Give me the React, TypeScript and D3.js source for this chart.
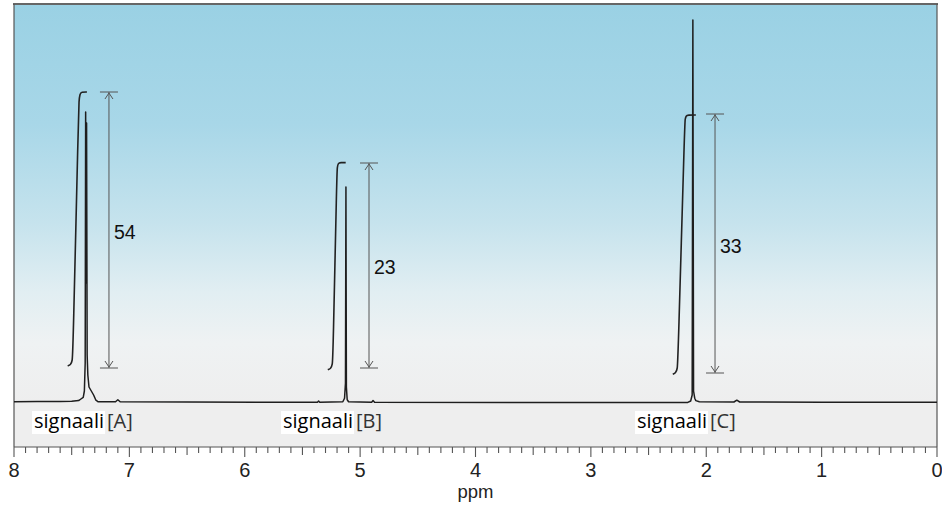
import React, { useEffect, useRef } from "react";
import * as d3 from "d3";

// spectrum trace, [ppm, intensity]
const spectrum: [number, number][] = [
  [8.0, 0.3], [7.8, 0.35], [7.6, 0.4], [7.5, 0.45], [7.44, 0.6], [7.42, 1.0],
  [7.4, 1.4], [7.39, 3], [7.383, 10], [7.379, 72.75], [7.375, 30], [7.371, 70],
  [7.366, 12], [7.36, 7], [7.35, 4], [7.33, 3], [7.31, 2], [7.29, 0.7],
  [7.27, 0.3], [7.12, 0.3], [7.1, 0.8], [7.08, 0.3], [6.5, 0.25], [5.6, 0.2],
  [5.37, 0.2], [5.36, 0.5], [5.35, 0.2], [5.15, 0.3], [5.135, 1.2], [5.127, 5],
  [5.123, 54], [5.119, 4], [5.112, 0.8], [5.1, 0.3], [4.9, 0.2], [4.888, 0.6],
  [4.875, 0.2], [3.5, 0.1], [2.5, 0.1], [2.16, 0.15], [2.135, 0.5], [2.122, 2],
  [2.116, 95.75], [2.11, 3], [2.1, 1.2], [2.09, 0.6], [2.06, 0.3], [1.76, 0.25],
  [1.735, 0.7], [1.71, 0.25], [1.0, 0.2], [0.0, 0.2],
];

// integration traces
const integralA: [number, number][] = [
  [7.535, 9.3], [7.51, 9.5], [7.494, 10.5], [7.489, 13], [7.441, 72],
  [7.437, 75.5], [7.429, 77.3], [7.415, 77.75], [7.368, 77.75],
];
const integralB: [number, number][] = [
  [5.28, 8.3], [5.255, 8.6], [5.24, 9.5], [5.235, 12], [5.202, 57],
  [5.198, 59], [5.19, 60], [5.17, 60.1], [5.125, 60.1],
];
const integralC: [number, number][] = [
  [2.29, 7.2], [2.265, 7.5], [2.25, 8.5], [2.245, 11], [2.187, 69.5],
  [2.183, 71], [2.175, 71.8], [2.16, 72], [2.09, 72],
];
const integrals = [integralA, integralB, integralC];

// integral height arrows
const arrowPpm = [7.177, 4.923, 1.924];
const arrowTop = [77.75, 60, 72.25];
const arrowBottom = [8.75, 8.75, 7.5];
const arrowLabels = ["54", "23", "33"];
const arrowLabelLevel = [42.75, 34, 39.25];

// signal names under the trace
const signalPpm = [7.835, 5.677, 2.609];
const signalTags = ["[A]", "[B]", "[C]"];

const majorTicks = [8, 7, 6, 5, 4, 3, 2, 1, 0];
const tickLabels = ["8", "7", "6", "5", "4", "3", "2", "1", "0"];

const W = 942;
const H = 506;

const App = () => {
  const svgRef = useRef<SVGSVGElement>(null);

  useEffect(() => {
    document.body.style.margin = "0";
    const left = 14;
    const right = 937;
    const top = 4;
    const frameBottom = 447;

    const svg = d3.select(svgRef.current);
    svg.selectAll("*").remove();

    const x = d3.scaleLinear().domain([8, 0]).range([left, right]);
    const y = d3.scaleLinear().domain([0, 100]).range([403, 3]);

    const defs = svg.append("defs");
    const grad = defs
      .append("linearGradient")
      .attr("id", "bg")
      .attr("x1", 0)
      .attr("y1", 0)
      .attr("x2", 0)
      .attr("y2", 1);
    [
      [0, "#9ad1e4"],
      [0.3, "#a8d7e8"],
      [0.55, "#c6e3ed"],
      [0.72, "#e1eef2"],
      [0.85, "#eff2f3"],
      [1, "#eeeeee"],
    ].forEach(([o, c]) =>
      grad.append("stop").attr("offset", o as number).attr("stop-color", c as string)
    );

    svg
      .append("rect")
      .attr("x", left)
      .attr("y", top)
      .attr("width", right - left)
      .attr("height", 403 - top)
      .attr("fill", "url(#bg)");
    svg
      .append("rect")
      .attr("x", left)
      .attr("y", 403)
      .attr("width", right - left)
      .attr("height", frameBottom - 403)
      .attr("fill", "#eeeeee");

    // frame
    svg
      .append("line")
      .attr("x1", left - 1)
      .attr("x2", right + 1)
      .attr("y1", top)
      .attr("y2", top)
      .attr("stroke", "#666")
      .attr("stroke-width", 2);
    [left, right].forEach((xx) =>
      svg
        .append("line")
        .attr("x1", xx)
        .attr("x2", xx)
        .attr("y1", top)
        .attr("y2", frameBottom)
        .attr("stroke", "#555")
        .attr("stroke-width", 1.2)
    );

    // axis
    const axisG = svg.append("g").attr("transform", `translate(0,${frameBottom})`);
    axisG
      .append("line")
      .attr("x1", left)
      .attr("x2", right)
      .attr("stroke", "#555")
      .attr("stroke-width", 1.2);
    const minor = d3.range(0, 81).map((i) => i / 10);
    axisG
      .selectAll(".tick")
      .data(minor)
      .enter()
      .append("line")
      .attr("x1", (d) => x(d))
      .attr("x2", (d) => x(d))
      .attr("y1", 0)
      .attr("y2", (d, i) => (i % 10 === 0 ? 10 : i % 5 === 0 ? 8 : 6))
      .attr("stroke", "#555")
      .attr("stroke-width", 1.1);
    axisG
      .selectAll(".lbl")
      .data(majorTicks)
      .enter()
      .append("text")
      .attr("x", (d) => x(d))
      .attr("y", 30)
      .attr("text-anchor", "middle")
      .attr("font-family", "Liberation Sans, Arial, sans-serif")
      .attr("font-size", 20)
      .attr("fill", "#222")
      .text((d, i) => tickLabels[i]);
    svg
      .append("text")
      .attr("x", x(4))
      .attr("y", 498)
      .attr("text-anchor", "middle")
      .attr("font-family", "Liberation Sans, Arial, sans-serif")
      .attr("font-size", 18.5)
      .attr("fill", "#222")
      .text("ppm");

    // spectrum
    const line = d3
      .line<[number, number]>()
      .x((d) => x(d[0]))
      .y((d) => y(d[1]));
    svg
      .append("path")
      .attr("d", line(spectrum))
      .attr("fill", "none")
      .attr("stroke", "#1e1e1e")
      .attr("stroke-width", 1.5)
      .attr("stroke-linejoin", "round");

    // integrals
    const iline = d3
      .line<[number, number]>()
      .x((d) => x(d[0]))
      .y((d) => y(d[1]))
      .curve(d3.curveBasis);
    integrals.forEach((d) =>
      svg
        .append("path")
        .attr("d", iline(d))
        .attr("fill", "none")
        .attr("stroke", "#222")
        .attr("stroke-width", 1.6)
    );

    // arrows
    arrowPpm.forEach((p, i) => {
      const ax = x(p);
      const y1 = y(arrowTop[i]);
      const y2 = y(arrowBottom[i]);
      const g = svg
        .append("g")
        .attr("stroke", "#555")
        .attr("stroke-width", 1)
        .attr("fill", "none");
      g.append("line").attr("x1", ax).attr("x2", ax).attr("y1", y1).attr("y2", y2);
      g.append("line").attr("x1", ax - 9).attr("x2", ax + 9).attr("y1", y1).attr("y2", y1);
      g.append("line").attr("x1", ax - 9).attr("x2", ax + 9).attr("y1", y2).attr("y2", y2);
      g.append("path").attr("d", `M${ax - 4},${y1 + 7}L${ax},${y1 + 1}L${ax + 4},${y1 + 7}`);
      g.append("path").attr("d", `M${ax - 4},${y2 - 7}L${ax},${y2 - 1}L${ax + 4},${y2 - 7}`);
      svg
        .append("text")
        .attr("x", ax + 5)
        .attr("y", y(arrowLabelLevel[i]) + 7)
        .attr("font-family", "Liberation Sans, Arial, sans-serif")
        .attr("font-size", 19.5)
        .attr("fill", "#111")
        .text(arrowLabels[i]);
    });

    // signal labels
    signalPpm.forEach((p, i) => {
      const sx = x(p);
      const t = svg
        .append("text")
        .attr("x", sx + 1)
        .attr("y", 428)
        .attr("font-family", "Open Sans, sans-serif")
        .attr("font-size", 20)
        .attr("fill", "#000")
        .text("signaali");
      const bb = (t.node() as SVGTextElement).getBBox();
      svg
        .insert("rect", () => t.node() as SVGTextElement)
        .attr("x", sx - 1)
        .attr("y", 411)
        .attr("width", bb.width + 3)
        .attr("height", 23)
        .attr("fill", "#fff");
      svg
        .append("text")
        .attr("x", sx + bb.width + 4)
        .attr("y", 428)
        .attr("font-family", "Open Sans, sans-serif")
        .attr("font-size", 20)
        .attr("fill", "#333")
        .text(signalTags[i]);
    });
  }, []);

  return <svg ref={svgRef} width={W} height={H} style={{ display: "block", background: "#fff" }} />;
};

export default App;
